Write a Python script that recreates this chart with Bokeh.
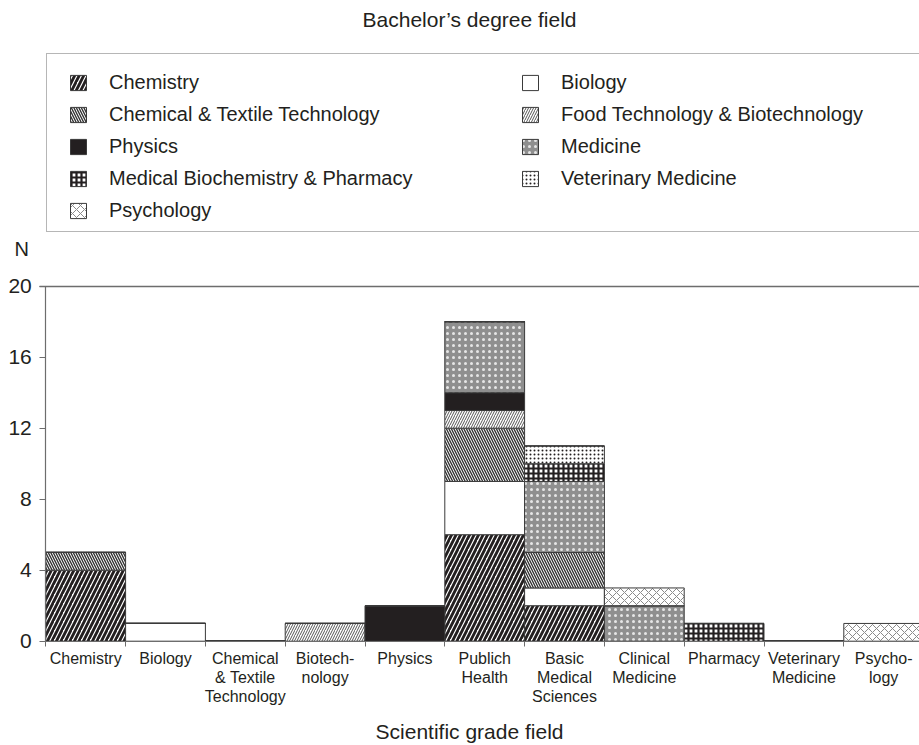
from bokeh.plotting import figure
from bokeh.models import (ColumnDataSource, Range1d, FixedTicker, Legend, LegendItem,
                          Label, LinearAxis)
from bokeh.embed import file_html
from bokeh.resources import INLINE

# ---------------- data ----------------
grade_fields = ["Chemistry", "Biology", "Chemical & Textile Technology", "Biotechnology",
                "Physics", "Publich Health", "Basic Medical Sciences", "Clinical Medicine",
                "Pharmacy", "Veterinary Medicine", "Psychology"]
tick_labels = ["Chemistry", "Biology", "Chemical\n& Textile\nTechnology", "Biotech-\nnology",
               "Physics", "Publich\nHealth", "Basic\nMedical\nSciences", "Clinical\nMedicine",
               "Pharmacy", "Veterinary\nMedicine", "Psycho-\nlogy"]
y_ticks = [0, 4, 8, 12, 16, 20]

chemistry    = [4, 0, 0, 0, 0, 6, 2, 0, 0, 0, 0]
biology      = [0, 1, 0, 0, 0, 3, 1, 0, 0, 0, 0]
chem_textile = [1, 0, 0, 0, 0, 3, 2, 0, 0, 0, 0]
food_tech    = [0, 0, 0, 1, 0, 1, 0, 0, 0, 0, 0]
physics      = [0, 0, 0, 0, 2, 1, 0, 0, 0, 0, 0]
medicine     = [0, 0, 0, 0, 0, 4, 4, 2, 0, 0, 0]
med_biochem  = [0, 0, 0, 0, 0, 0, 1, 0, 1, 0, 0]
vet_medicine = [0, 0, 0, 0, 0, 0, 1, 0, 0, 0, 0]
psychology   = [0, 0, 0, 0, 0, 0, 0, 1, 0, 0, 1]

series_keys = ["chemistry", "biology", "chem_textile", "food_tech", "physics",
               "medicine", "med_biochem", "vet_medicine", "psychology"]
series_names = {
    "chemistry": "Chemistry",
    "biology": "Biology",
    "chem_textile": "Chemical & Textile Technology",
    "food_tech": "Food Technology & Biotechnology",
    "physics": "Physics",
    "medicine": "Medicine",
    "med_biochem": "Medical Biochemistry & Pharmacy",
    "vet_medicine": "Veterinary Medicine",
    "psychology": "Psychology",
}
legend_order = ["chemistry", "chem_textile", "physics", "med_biochem", "psychology",
                "biology", "food_tech", "medicine", "vet_medicine"]

# ---------------- styles ----------------
FONT = "Liberation Sans"
TXT = "#231f20"
AXC = "#6d6d6d"

style = {
    "chemistry":    dict(fill="white",   hatch="/",  hc=TXT,       hw=2.8, hs=9),
    "biology":      dict(fill="white",   hatch=None, hc=TXT,       hw=1.0, hs=8),
    "chem_textile": dict(fill="white",   hatch="\\", hc="#333333", hw=1.4, hs=5),
    "food_tech":    dict(fill="white",   hatch="/",  hc="#555555", hw=1.0, hs=5),
    "physics":      dict(fill=TXT,       hatch=None, hc=TXT,       hw=1.0, hs=8),
    "medicine":     dict(fill="#8f8f8f", hatch=".",  hc="#e6e6e6", hw=1.6, hs=6),
    "med_biochem":  dict(fill="white",   hatch="+",  hc=TXT,       hw=2.2, hs=5),
    "vet_medicine": dict(fill="white",   hatch=".",  hc=TXT,       hw=2.6, hs=4),
    "psychology":   dict(fill="white",   hatch="x",  hc="#8a8a8a", hw=1.0, hs=8),
}

src = ColumnDataSource(dict(
    x=[i + 0.5 for i in range(len(grade_fields))],
    chemistry=chemistry, biology=biology, chem_textile=chem_textile, food_tech=food_tech,
    physics=physics, medicine=medicine, med_biochem=med_biochem, vet_medicine=vet_medicine,
    psychology=psychology,
))

# frame covers the whole canvas; axes are pinned at data 0
W, H = 919, 745
X0, PX = 45.3, 79.8          # screen x of data 0, px per category
Y0, PY = 640.7, 17.75        # screen y of data 0, px per unit
p = figure(width=W, height=H, output_backend="svg", toolbar_location=None,
           x_range=Range1d(-X0 / PX, (W - X0) / PX),
           y_range=Range1d(-(H - Y0) / PY, Y0 / PY),
           min_border=0, min_border_left=0, min_border_right=0,
           min_border_top=0, min_border_bottom=0)
p.outline_line_color = None
p.xgrid.visible = False
p.ygrid.visible = False
p.background_fill_color = "white"

renderers = p.vbar_stack(
    series_keys, x="x", width=1.0, source=src,
    fill_color=[style[k]["fill"] for k in series_keys],
    hatch_pattern=[style[k]["hatch"] for k in series_keys],
    hatch_color=[style[k]["hc"] for k in series_keys],
    hatch_weight=[style[k]["hw"] for k in series_keys],
    hatch_scale=[style[k]["hs"] for k in series_keys],
    line_color="#3a3a3a", line_width=1,
)
rmap = dict(zip(series_keys, renderers))

# axes
xa = p.xaxis[0]
xa.fixed_location = 0
xa.bounds = (0, len(grade_fields))
xa.ticker = FixedTicker(ticks=[i + 0.5 for i in range(len(grade_fields))],
                        minor_ticks=list(range(len(grade_fields) + 1)))
xa.major_label_overrides = {i + 0.5: lab for i, lab in enumerate(tick_labels)}
xa.major_tick_out = 0
xa.major_tick_in = 0
xa.minor_tick_out = 5
xa.minor_tick_in = 0
xa.minor_tick_line_color = AXC
xa.axis_line_color = AXC
xa.axis_line_width = 1.2
xa.major_label_text_font = FONT
xa.major_label_text_font_size = "16px"
xa.major_label_text_color = TXT
xa.major_label_text_line_height = 1.12
xa.major_label_standoff = 4
xa.major_label_orientation = "horizontal"

ya = p.yaxis[0]
ya.fixed_location = 0
ya.bounds = (0, 20)
ya.ticker = FixedTicker(ticks=y_ticks, minor_ticks=[])
ya.major_tick_out = 6
ya.major_tick_in = 0
ya.major_tick_line_color = AXC
ya.axis_line_color = AXC
ya.axis_line_width = 1.2
ya.major_label_text_font = FONT
ya.major_label_text_font_size = "21px"
ya.major_label_text_color = TXT
ya.major_label_standoff = 8

# top line of the plot area at N = 20
top_axis = LinearAxis(fixed_location=20, bounds=(-6 / PX, len(grade_fields)),
                      ticker=FixedTicker(ticks=[], minor_ticks=[]),
                      major_label_text_font_size="0px", major_tick_line_color=None,
                      minor_tick_line_color=None, axis_line_color=AXC, axis_line_width=1.5)
p.add_layout(top_axis, "above")

# texts
p.add_layout(Label(x=5.31, y=35.03, text="Bachelor\u2019s degree field", text_align="center",
                   text_baseline="alphabetic", text_font=FONT, text_font_size="21px",
                   text_color=TXT))
p.add_layout(Label(x=-0.392, y=22.12, text="N", text_align="left",
                   text_baseline="alphabetic", text_font=FONT, text_font_size="20px",
                   text_color=TXT))
p.add_layout(Label(x=5.31, y=-5.087, text="Scientific grade field", text_align="center",
                   text_baseline="alphabetic", text_font=FONT, text_font_size="21px",
                   text_color=TXT))

# legend border (frame of the legend box)
dummy = p.scatter(x=[], y=[], fill_alpha=0, line_alpha=0)
border_legend = Legend(items=[LegendItem(label=" ", renderers=[dummy])],
                       location=(46, H - 232), padding=0, margin=0, spacing=0,
                       glyph_width=20, glyph_height=177, label_width=900, label_height=10,
                       label_standoff=0, border_line_color=AXC, border_line_width=1.5,
                       background_fill_color="white", label_text_font_size="1px")
p.add_layout(border_legend, "center")

legend = Legend(items=[LegendItem(label=series_names[k], renderers=[rmap[k]]) for k in legend_order],
                location=(68, 523), orientation="vertical", nrows=5,
                padding=13, margin=0, spacing=9,
                glyph_width=20, glyph_height=19, label_height=19, label_width=402,
                label_standoff=21, border_line_color=None, background_fill_alpha=0,
                label_text_font=FONT, label_text_font_size="20px", label_text_color=TXT)
p.add_layout(legend, "center")

open("out.html", "w").write(file_html(p, INLINE))
